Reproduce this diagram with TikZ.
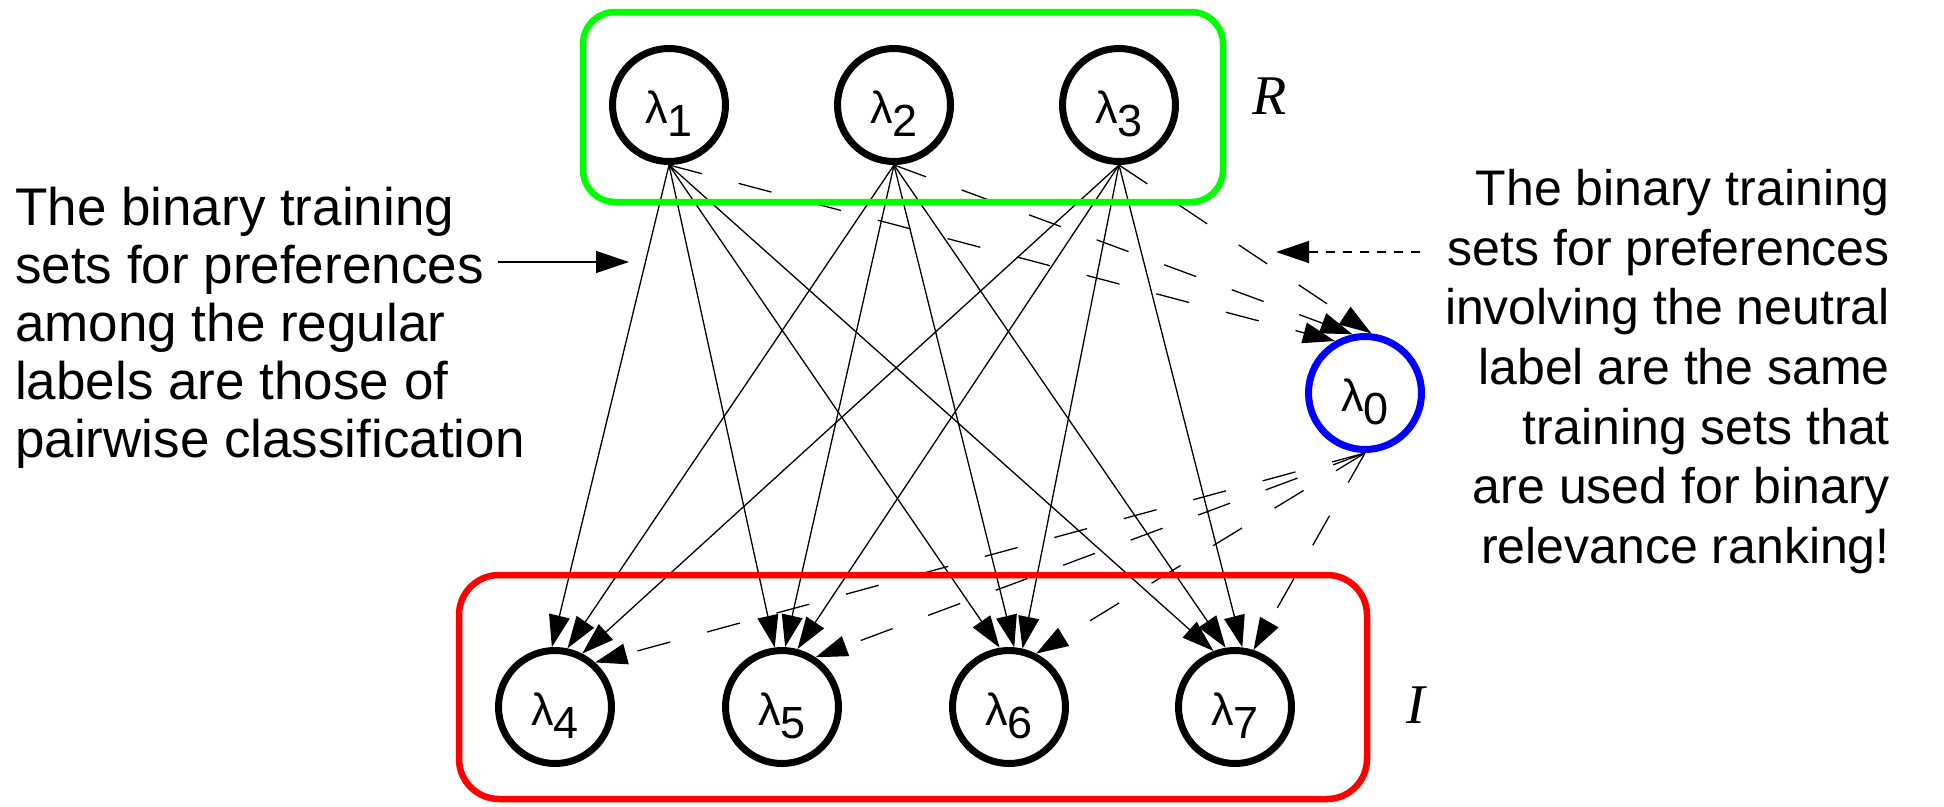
\documentclass[tikz,border=0pt]{standalone}
\usepackage{fontspec}
\setmainfont{Liberation Sans}
\newfontfamily\serifit{Liberation Serif}
\usetikzlibrary{arrows.meta}
\definecolor{boxgreen}{RGB}{0,255,0}
\definecolor{boxred}{RGB}{255,0,0}
\definecolor{nodeblue}{RGB}{0,0,255}
\begin{document}
\begin{tikzpicture}[x=1pt,y=-1pt,
  lab/.style={circle,draw=black,line width=7pt,minimum size=113pt,inner sep=0pt,
    text height=36pt,text depth=0pt,font=\fontsize{45}{45}\selectfont},
  neutral/.style={lab,draw=nodeblue},
  edge/.style={line width=1.3pt,-{Triangle[length=32pt,width=21pt]}},
  dedge/.style={edge,dash pattern=on 34pt off 38pt},
  leftnote/.style={font=\fontsize{53}{58}\selectfont,inner sep=0pt,align=left,anchor=north west},
  rightnote/.style={font=\fontsize{50}{59.7}\selectfont,inner sep=0pt,align=right,anchor=north east},
  setname/.style={font=\serifit\itshape\fontsize{56}{56}\selectfont,inner sep=0pt,anchor=base},
  notearrow/.style={line width=1.3pt,-{Triangle[length=33pt,width=22pt]}},
  groupbox/.style={line width=6.5pt}
]
\useasboundingbox (0,0) rectangle (1944,806);

% nodes
\node[lab] (l1) at (669,105) {λ\raisebox{-13pt}{1}};
\node[lab] (l2) at (894,105) {λ\raisebox{-13pt}{2}};
\node[lab] (l3) at (1119,105) {λ\raisebox{-13pt}{3}};
\node[lab] (l4) at (555,707) {λ\raisebox{-13pt}{4}};
\node[lab] (l5) at (782,707) {λ\raisebox{-13pt}{5}};
\node[lab] (l6) at (1009,707) {λ\raisebox{-13pt}{6}};
\node[lab] (l7) at (1235,707) {λ\raisebox{-13pt}{7}};
\node[neutral] (l0) at (1365,393) {λ\raisebox{-13pt}{0}};

% regular edges
\draw[edge] (l1.south) -- (l4.93);
\draw[edge] (l2.south) -- (l4.78);
\draw[edge] (l3.south) -- (l4.63);
\draw[edge] (l1.south) -- (l5.97);
\draw[edge] (l2.south) -- (l5.87);
\draw[edge] (l3.south) -- (l5.75);
\draw[edge] (l1.south) -- (l6.99);
\draw[edge] (l2.south) -- (l6.85);
\draw[edge] (l3.south) -- (l6.77);
\draw[edge] (l1.south) -- (l7.111);
\draw[edge] (l2.south) -- (l7.99);
\draw[edge] (l3.south) -- (l7.83);

% edges with the neutral label
\draw[dedge] (l1.south) -- (l0.120);
\draw[dedge] (l2.south) -- (l0.102);
\draw[dedge] (l3.south) -- (l0.84);
\draw[dedge] (l0.south) -- (l4.48);
\draw[dedge] (l0.south) -- (l5.56);
\draw[dedge] (l0.south) -- (l6.63);
\draw[dedge] (l0.south) -- (l7.72);

% group boxes
\draw[groupbox,draw=boxgreen,rounded corners=32pt] (583,12) rectangle (1223,202);
\draw[groupbox,draw=boxred,rounded corners=40pt] (459,575) rectangle (1367,799);
\node[setname] (R) at (1270,114) {R};
\node[setname] (I) at (1416,723) {I};

% annotations
\node[leftnote] (lt) at (15,187) {The binary training\\sets for preferences\\among the regular\\labels are those of\\pairwise classification};
\coordinate (la) at (498,262);
\coordinate (lb) at (629,262);
\draw[notearrow] (la) -- (lb);

\node[rightnote] (rt) at (1890,169) {The binary training\\sets for preferences\\involving the neutral\\label are the same\\training sets that\\are used for binary\\relevance ranking!};
\coordinate (ra) at (1420,252);
\coordinate (rb) at (1276,252);
\draw[notearrow,dash pattern=on 9pt off 8pt] (ra) -- (rb);
\end{tikzpicture}
\end{document}
